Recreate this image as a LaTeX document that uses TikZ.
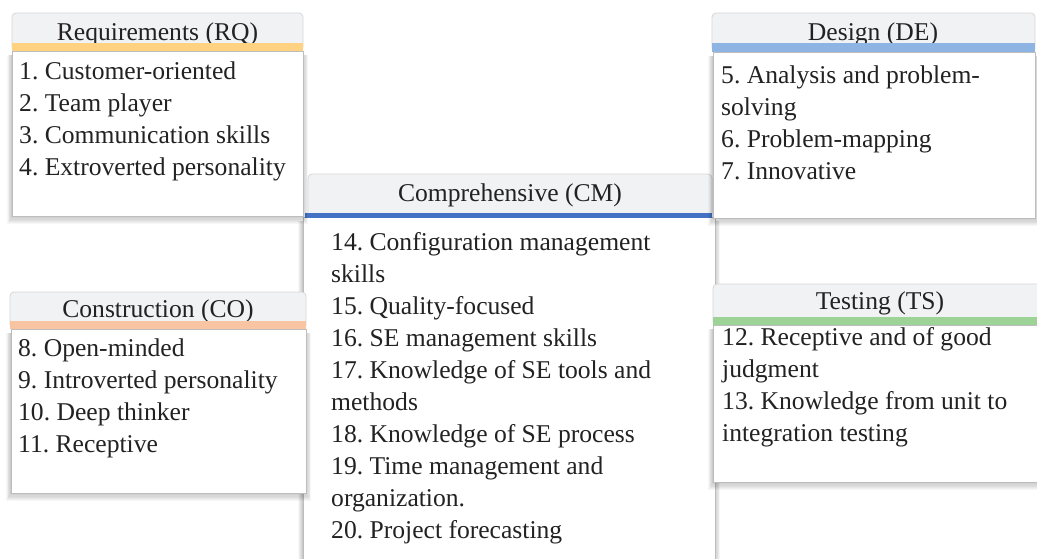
\documentclass[tikz,border=0pt]{standalone}
\usepackage{fontspec}
\setmainfont{Liberation Serif}
\frenchspacing

\definecolor{hdrfill}{HTML}{F1F2F4}
\definecolor{hdrline}{HTML}{D6D7DA}
\definecolor{bodyline}{HTML}{BDBDBD}
\definecolor{ink}{HTML}{222222}
\definecolor{rqbar}{HTML}{FFD282}
\definecolor{debar}{HTML}{8DB4E2}
\definecolor{cmbar}{HTML}{4472C4}
\definecolor{cobar}{HTML}{F8C4A2}
\definecolor{tsbar}{HTML}{9DD396}

\tikzset{
  hdr/.style={fill=hdrfill, draw=hdrline, line width=0.8pt, rounded corners=4pt},
  bodybox/.style={fill=white, draw=bodyline, line width=1pt},
  shade layer/.style={fill=black, opacity=0.03},
  ttl/.style={anchor=base, inner sep=0pt, text=ink, font=\fontsize{25.6}{32}\selectfont},
  lbl/.style={anchor=base west, inner sep=0pt, align=left, text=ink, font=\fontsize{25.6}{32}\selectfont},
}

% soft shadow under a card body: left, top, right, bottom
\newcommand\cardshade[4]{%
  \foreach \k in {1,...,7}{%
    \fill[shade layer] (#1-\k*0.7,#2+4) rectangle (#3+\k*0.7,#4+\k*1.2);}}

\begin{document}
\begin{tikzpicture}[x=1pt, y=-1pt]
\useasboundingbox (0,0) rectangle (1037,558);
\clip (0,0) rectangle (1037,558);
\fill[white] (0,0) rectangle (1037,558);

% Comprehensive (CM)
\draw[hdr] (308,174) rectangle (712,217);
\node[ttl] (cmT) at (510,201) {Comprehensive (CM)};
\cardshade{303}{217}{715}{575}
\draw[bodybox] (303,217) rectangle (715,575);
\fill[cmbar] (305,213) rectangle (712,217.5);
\node[lbl] (cmL) at (331,538) {14. Configuration management\\skills\\15. Quality-focused\\16. SE management skills\\17. Knowledge of SE tools and\\methods\\18. Knowledge of SE process\\19. Time management and\\organization.\\20. Project forecasting};

% Requirements (RQ)
\draw[hdr] (12,13) rectangle (303,51);
\node[ttl] (rqT) at (157.5,40) {Requirements (RQ)};
\fill[rqbar] (12,43) rectangle (303,51);
\cardshade{12}{51}{303}{216}
\draw[bodybox] (12,51) rectangle (303,216);
\node[lbl] (rqL) at (19,175) {1. Customer-oriented\\2. Team player\\3. Communication skills\\4. Extroverted personality};

% Design (DE)
\draw[hdr] (712,13) rectangle (1035,52);
\node[ttl] (deT) at (873,40) {Design (DE)};
\fill[debar] (712,43) rectangle (1035,52);
\cardshade{713}{52}{1035}{218}
\draw[bodybox] (713,52) rectangle (1035,218);
\node[lbl] (deL) at (721,179) {5. Analysis and problem-\\solving\\6. Problem-mapping\\7. Innovative};

% Construction (CO)
\draw[hdr] (10,292) rectangle (306,329);
\node[ttl] (coT) at (158,317) {Construction (CO)};
\fill[cobar] (10,321) rectangle (306,329);
\cardshade{11}{329}{306}{493}
\draw[bodybox] (11,329) rectangle (306,493);
\node[lbl] (coL) at (18,452) {8. Open-minded\\9. Introverted personality\\10. Deep thinker\\11. Receptive};

% Testing (TS)
\draw[hdr] (713,284) rectangle (1047,325);
\node[ttl] (tsT) at (880,309) {Testing (TS)};
\fill[tsbar] (713,316.5) rectangle (1047,325);
\cardshade{713}{325}{1047}{482}
\draw[bodybox] (713,325) rectangle (1047,482);
\node[lbl] (tsL) at (722,441) {12. Receptive and of good\\judgment\\13. Knowledge from unit to\\integration testing};
\end{tikzpicture}
\end{document}
